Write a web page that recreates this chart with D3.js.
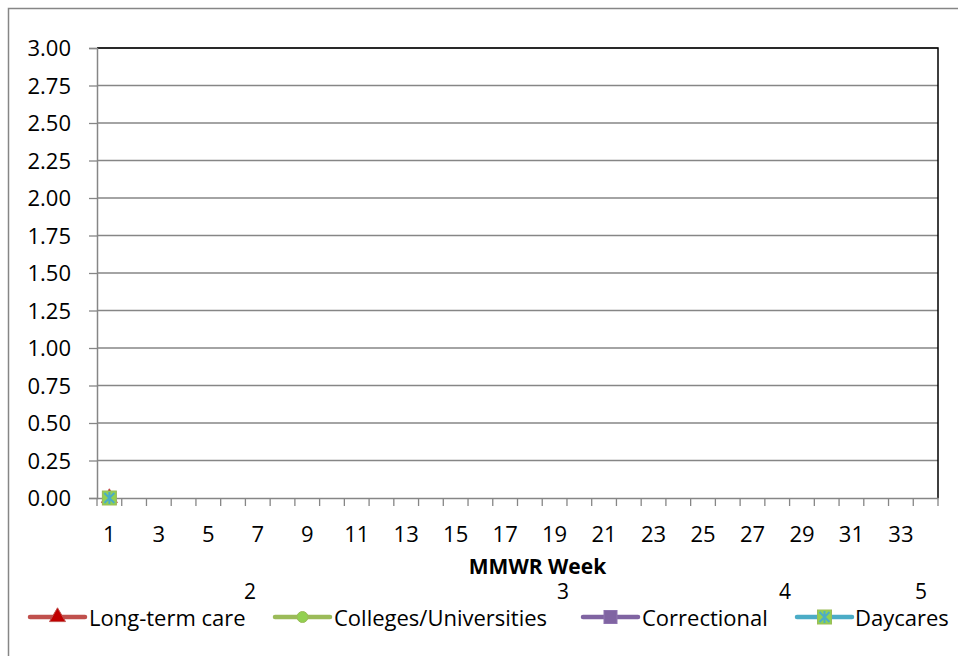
<!DOCTYPE html>
<html><head><meta charset="utf-8">
<script src="https://cdn.jsdelivr.net/npm/d3@7"></script>
<style>body{margin:0;background:#fff}svg{display:block}text{font-family:"Open Sans",Lato,sans-serif;fill:#000}</style>
</head><body>
<svg id="c" width="958" height="656"></svg>
<script>
const weeks = d3.range(1, 35);
const yTicks = [0,0.25,0.5,0.75,1,1.25,1.5,1.75,2,2.25,2.5,2.75,3];
const xTickLabels = d3.range(1, 35, 2);
const seriesNames = ["Long-term care","Colleges/Universities","Correctional","Daycares"];
const longTermCare = [0];
const colleges = [0];
const correctional = [0];
const daycares = [0];
const legendNumbers = ["2","3","4","5"];

const svg = d3.select("#c");
const L=97, R=938, T=48, B=498;
svg.append("rect").attr("x",8.5).attr("y",8.5).attr("width",970).attr("height",660).attr("fill","none").attr("stroke","#868686").attr("stroke-width",1.5);

const x = d3.scaleBand().domain(weeks).range([L,R]);
const y = d3.scaleLinear().domain([0,3]).range([B,T]);

svg.append("g").selectAll("line").data(yTicks.slice(1)).join("line")
  .attr("x1",L).attr("x2",R).attr("y1",d=>y(d)).attr("y2",d=>y(d))
  .attr("stroke","#868686").attr("stroke-width",1.3);

svg.append("path").attr("d",`M${L},${T}H${R}V${B}`).attr("fill","none").attr("stroke","#000").attr("stroke-width",1.5);

const ya = svg.append("g").attr("transform",`translate(${L},0)`)
  .call(d3.axisLeft(y).tickValues(yTicks).tickFormat(d3.format(".2f")).tickSize(8).tickPadding(18));
ya.select(".domain").attr("stroke","#868686").attr("stroke-width",1.5);
ya.selectAll(".tick line").attr("stroke","#868686").attr("stroke-width",1.3);
ya.selectAll("text").style("font-size","22px").attr("dy","0.36em");

const xa = svg.append("g").attr("transform",`translate(0,${B})`)
  .call(d3.axisBottom(x).tickValues(xTickLabels).tickSize(0));
xa.select(".domain").attr("stroke","#868686").attr("stroke-width",1.5);
xa.selectAll("text").style("font-size","22px").attr("y",44).attr("dy",null);
svg.append("g").selectAll("line").data(weeks.concat([35])).join("line")
  .attr("x1",d=>d<=34?x(d):R).attr("x2",d=>d<=34?x(d):R).attr("y1",B).attr("y2",B+8)
  .attr("stroke","#868686").attr("stroke-width",1.3);

svg.append("text").attr("x",(L+R)/2+20).attr("y",574).attr("text-anchor","middle")
  .style("font-size","21px").style("font-weight","bold").text("MMWR Week");

const colors = ["#C0504D","#9BBB59","#8064A2","#4BACC6"];
const data = [longTermCare, colleges, correctional, daycares];

function marker(g, i, cx, cy){
  if(i===0){
    g.append("path").attr("d",d3.symbol(d3.symbolTriangle,110)()).attr("transform",`translate(${cx},${cy})`).attr("fill","#C00000").attr("stroke","#C0504D");
  } else if(i===1){
    g.append("circle").attr("cx",cx).attr("cy",cy).attr("r",5.5).attr("fill","#92D050").attr("stroke","#9BBB59");
  } else if(i===2){
    g.append("rect").attr("x",cx-6.5).attr("y",cy-6.5).attr("width",13).attr("height",13).attr("fill","#8064A2").attr("stroke","#8E73B0");
  } else {
    g.append("rect").attr("x",cx-7).attr("y",cy-7).attr("width",14).attr("height",14).attr("fill","#92D050").attr("stroke","#9BBB59");
    g.append("path").attr("d",`M${cx-5},${cy-5}L${cx+5},${cy+5}M${cx+5},${cy-5}L${cx-5},${cy+5}M${cx},${cy-6}V${cy+6}`).attr("stroke","#4BACC6").attr("stroke-width",2);
  }
}

const line = d3.line().defined(d=>d!=null).x((d,i)=>x(weeks[i])+x.bandwidth()/2).y(d=>y(d));
data.forEach((arr,i)=>{
  const g = svg.append("g");
  g.append("path").attr("d",line(arr)).attr("fill","none").attr("stroke",colors[i]).attr("stroke-width",3.5);
  arr.forEach((v,j)=>{ if(v!=null) marker(g,i,x(weeks[j])+x.bandwidth()/2,y(v)); });
});

const legX = [30,275,583,797];
const textX = [89,334,642,855];
const numX = [250,563,785,921];
const ly = 617;
seriesNames.forEach((n,i)=>{
  const g = svg.append("g");
  g.append("line").attr("x1",legX[i]).attr("x2",legX[i]+55).attr("y1",ly).attr("y2",ly)
    .attr("stroke",colors[i]).attr("stroke-width",4.5).attr("stroke-linecap","round");
  marker(g,i,legX[i]+27.5,ly);
  g.append("text").attr("x",textX[i]).attr("y",626).style("font-size","22px").text(n);
  svg.append("text").attr("x",numX[i]).attr("y",599).attr("text-anchor","middle").style("font-size","21px").text(legendNumbers[i]);
});
</script>
</body></html>
